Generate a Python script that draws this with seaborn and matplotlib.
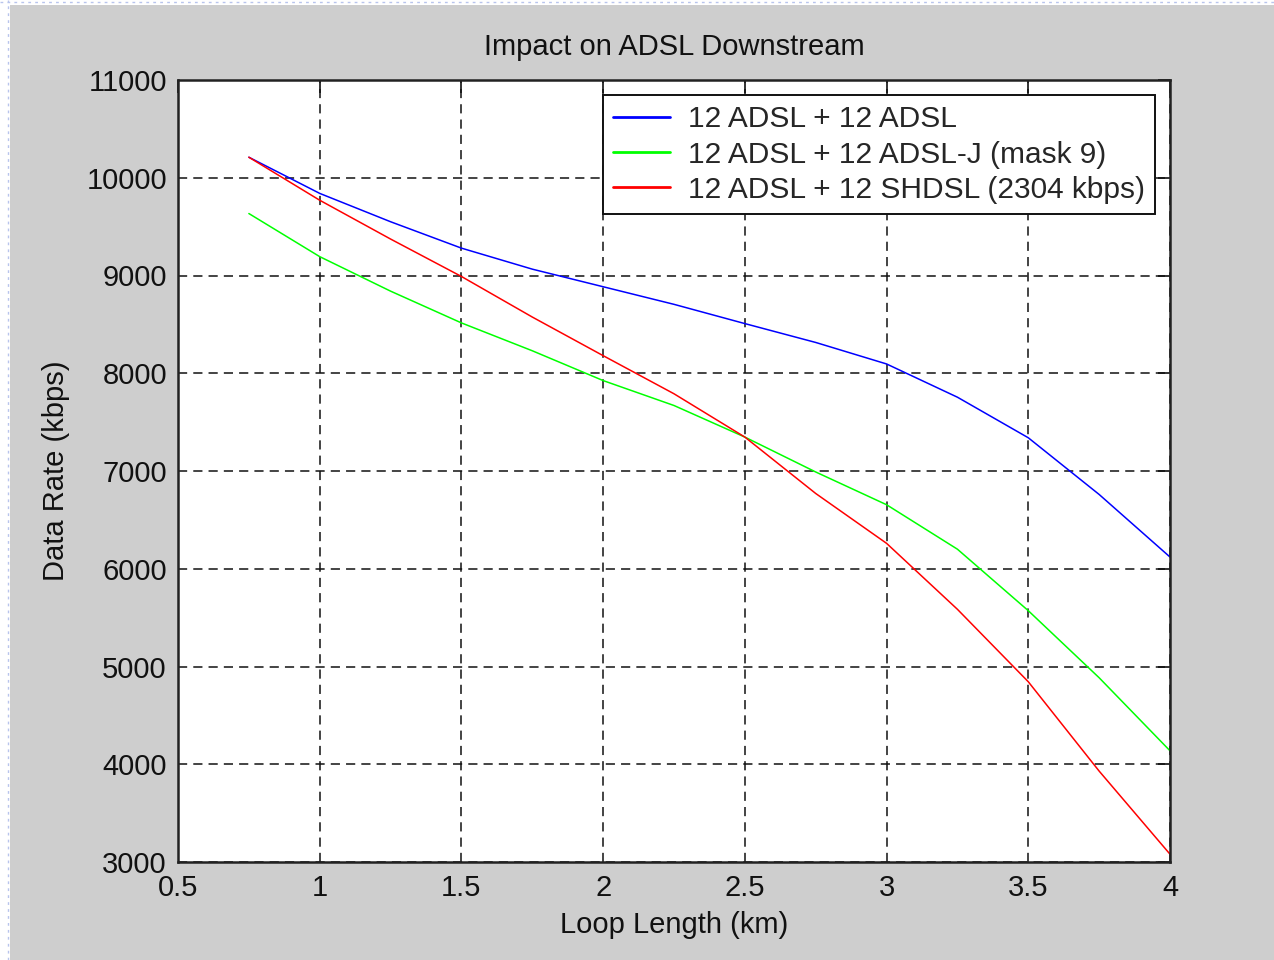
import numpy as np
import pandas as pd
import matplotlib
matplotlib.use("Agg")
import matplotlib.pyplot as plt
import seaborn as sns
from matplotlib.patches import Rectangle
from matplotlib.lines import Line2D

# loop length (km) and downstream rate (kbps)
loop_km = [0.75, 1.0, 1.25, 1.5, 1.75, 2.0, 2.25, 2.5, 2.75, 3.0, 3.25, 3.5, 3.75, 4.0]
adsl_adsl = [10210, 9840, 9550, 9280, 9065, 8885, 8705, 8508, 8315, 8095, 7755, 7340, 6760, 6120]
adsl_adslj = [9634, 9193, 8840, 8515, 8230, 7925, 7670, 7347, 6990, 6655, 6200, 5571, 4885, 4138]
adsl_shdsl = [10210, 9770, 9373, 8990, 8575, 8180, 7790, 7347, 6770, 6260, 5585, 4844, 3930, 3080]

series_names = ["12 ADSL + 12 ADSL",
                "12 ADSL + 12 ADSL-J (mask 9)",
                "12 ADSL + 12 SHDSL (2304 kbps)"]
series_colors = ["#0000ff", "#00ff00", "#ff0000"]

x_ticks = [0.5, 1, 1.5, 2, 2.5, 3, 3.5, 4]
x_tick_labels = ["0.5", "1", "1.5", "2", "2.5", "3", "3.5", "4"]
y_ticks = [3000, 4000, 5000, 6000, 7000, 8000, 9000, 10000, 11000]

frames = []
for name, vals in zip(series_names, [adsl_adsl, adsl_adslj, adsl_shdsl]):
    frames.append(pd.DataFrame({"Loop Length (km)": loop_km, "Data Rate (kbps)": vals, "Case": name}))
df = pd.concat(frames, ignore_index=True)

sns.set_style("white")
plt.rcParams["font.family"] = ["Liberation Sans", "DejaVu Sans"]
FS = 21

W, H = 1274, 960
fig = plt.figure(figsize=(W / 100, H / 100), dpi=100, facecolor="white")

# grey figure panel, with a thin white margin on the top and left
fig.patches.append(Rectangle((10 / W, 0), 1 - 10 / W, 955 / H, transform=fig.transFigure,
                             facecolor="#cecece", edgecolor="none", zorder=-10))
fig.lines.append(Line2D([0, 1], [1 - 1.5 / H, 1 - 1.5 / H], transform=fig.transFigure,
                        color="#b8c4ec", lw=1, ls=(0, (2, 3)), zorder=-10))
fig.lines.append(Line2D([8 / W, 8 / W], [0, 1], transform=fig.transFigure,
                        color="#b8c4ec", lw=1, ls=(0, (2, 3)), zorder=-10))

ax = fig.add_axes([178 / W, 1 - 862 / H, 992 / W, 782 / H])
ax.set_zorder(5)
ax.set_facecolor("white")

sns.lineplot(data=df, x="Loop Length (km)", y="Data Rate (kbps)", hue="Case",
             palette=dict(zip(series_names, series_colors)), ax=ax, linewidth=1.1,
             sort=False, estimator=None)

ax.set_xlim(0.5, 4)
ax.set_ylim(3000, 11000)
ax.set_xticks(x_ticks)
ax.set_xticklabels(x_tick_labels)
ax.set_yticks(y_ticks)
ax.grid(True, color="#111111", linestyle=(0, (6, 4)), linewidth=1.1)
ax.tick_params(direction="in", length=9, width=1.2, top=True, right=True,
               labelsize=FS, colors="#111111")
ax.tick_params(axis="x", pad=9)
ax.tick_params(axis="y", pad=8)
for s in ax.spines.values():
    s.set_visible(True)
    s.set_color("#222222")
    s.set_linewidth(1.8)

ax.set_title("Impact on ADSL Downstream", fontsize=FS, color="#111111", pad=18)
ax.set_xlabel("Loop Length (km)", fontsize=FS, color="#111111", labelpad=6)
ax.set_ylabel("Data Rate (kbps)", fontsize=FS, color="#111111", labelpad=12)

leg = ax.legend(loc="upper right", fontsize=21.5, frameon=True, fancybox=False,
                borderaxespad=0.5, handlelength=1.9, handletextpad=0.6,
                borderpad=0.35, labelspacing=0.24)
leg.get_frame().set_edgecolor("#111111")
leg.get_frame().set_linewidth(1.4)
leg.get_frame().set_alpha(1)
for line in leg.get_lines():
    line.set_linewidth(2)

fig.savefig("out.png", dpi=100, facecolor=fig.get_facecolor())
